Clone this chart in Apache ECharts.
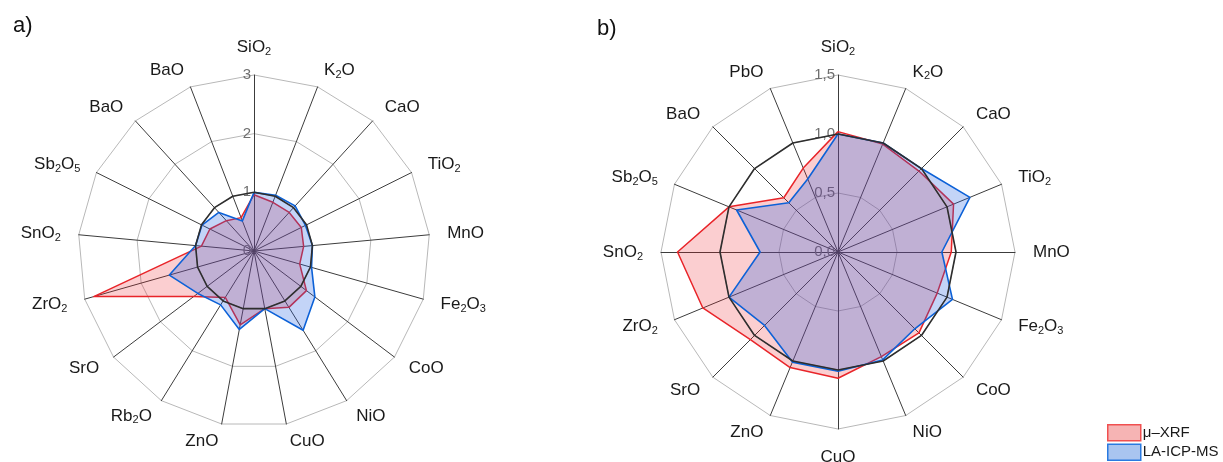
<!DOCTYPE html>
<html>
<head>
<meta charset="utf-8">
<script src="https://cdn.jsdelivr.net/npm/echarts@6/dist/echarts.min.js"></script>
<style>
html, body { margin: 0; padding: 0; background: #fff; }
#chart { width: 1223px; height: 462px; }
</style>
</head>
<body>
<div id="chart"></div>
<script>
// panel a) oxides, clockwise from top
var namesA = ['SiO2', 'K2O', 'CaO', 'TiO2', 'MnO', 'Fe2O3', 'CoO', 'NiO', 'CuO', 'ZnO', 'Rb2O', 'SrO', 'ZrO2', 'SnO2', 'Sb2O5', 'BaO', 'BaO'];
var xrfA = [0.96, 0.89, 0.89, 0.90, 0.85, 0.81, 1.12, 1.13, 1.00, 1.28, 0.93, 1.29, 2.84, 0.90, 0.84, 0.70, 0.61];
var icpA = [1.00, 1.02, 1.04, 0.98, 1.00, 1.02, 1.30, 1.59, 1.00, 1.36, 1.08, 1.20, 1.50, 1.00, 0.99, 0.89, 0.55];
var refA = [1, 1, 1, 1, 1, 1, 1, 1, 1, 1, 1, 1, 1, 1, 1, 1, 1];
var ticksA = ['0', '1', '2', '3'];

// panel b)
var namesB = ['SiO2', 'K2O', 'CaO', 'TiO2', 'MnO', 'Fe2O3', 'CoO', 'NiO', 'CuO', 'ZnO', 'SrO', 'ZrO2', 'SnO2', 'Sb2O5', 'BaO', 'PbO'];
var xrfB = [1.02, 0.99, 0.97, 1.06, 0.96, 0.91, 0.97, 0.96, 1.07, 1.06, 1.05, 1.24, 1.36, 1.00, 0.65, 0.77];
var icpB = [1.00, 1.00, 1.00, 1.21, 0.88, 1.05, 0.92, 0.99, 1.01, 1.01, 0.88, 1.00, 0.66, 0.93, 0.59, 0.67];
var refB = [1, 1, 1, 1, 1, 1, 1, 1, 1, 1, 1, 1, 1, 1, 1, 1];
var ticksB = ['0,0', '0,5', '1,0', '1,5'];

var seriesNames = ['μ–XRF', 'LA-ICP-MS'];

var FONT = 'Liberation Sans, Arial, sans-serif';
var chart = echarts.init(document.getElementById('chart'));

// echarts lays indicators out counter-clockwise, the figure goes clockwise
function cw(arr) {
    return [arr[0]].concat(arr.slice(1).reverse());
}

// digits in formulas become subscripts
function subs(name) {
    return name.replace(/(\d)/g, '{s|$1}');
}

function indicators(names, max, ticks, step) {
    return cw(names).map(function (n, i) {
        var ind = { name: n, min: 0, max: max };
        if (i === 0) {
            ind.axisLabel = {
                show: true,
                color: '#6e6e6e',
                fontSize: 15,
                margin: 3,
                fontFamily: FONT,
                formatter: function (v) { return ticks[Math.round(v / step)]; }
            };
        }
        return ind;
    });
}

function radar(center, radius, names, max, ticks, step) {
    return {
        center: center,
        radius: radius,
        startAngle: 90,
        shape: 'polygon',
        splitNumber: 3,
        nameGap: 18,
        indicator: indicators(names, max, ticks, step),
        axisName: {
            color: '#1a1a1a',
            fontSize: 17,
            fontFamily: FONT,
            lineHeight: 20,
            formatter: subs,
            rich: {
                s: { fontSize: 11, lineHeight: 12, verticalAlign: 'bottom', fontFamily: FONT, color: '#1a1a1a' }
            }
        },
        splitLine: { lineStyle: { color: '#b8b8b8', width: 1 } },
        splitArea: { show: false },
        axisLine: { lineStyle: { color: '#3c3c3c', width: 1 } },
        axisTick: { show: false }
    };
}

function radarSeries(idx, xrf, icp, ref) {
    return {
        type: 'radar',
        radarIndex: idx,
        symbol: 'none',
        silent: true,
        data: [
            {
                name: seriesNames[0],
                value: cw(xrf),
                lineStyle: { color: '#e8262a', width: 1.5 },
                itemStyle: { color: '#e8262a' },
                areaStyle: { color: 'rgba(235,30,35,0.31)' }
            },
            {
                name: seriesNames[1],
                value: cw(icp),
                lineStyle: { color: '#0a62d6', width: 1.6 },
                itemStyle: { color: '#0a62d6' },
                areaStyle: { color: 'rgba(30,95,225,0.38)' }
            },
            {
                name: 'ref',
                value: cw(ref),
                lineStyle: { color: '#2e2e2e', width: 1.6 },
                itemStyle: { color: '#2e2e2e' }
            }
        ]
    };
}

var option = {
    animation: false,
    title: [
        { text: 'a)', left: 8, top: 10, textStyle: { fontSize: 22, fontWeight: 'normal', color: '#111', fontFamily: FONT } },
        { text: 'b)', left: 592, top: 13, textStyle: { fontSize: 22, fontWeight: 'normal', color: '#111', fontFamily: FONT } }
    ],
    legend: {
        orient: 'vertical',
        left: 1107,
        top: 424,
        padding: 0,
        icon: 'rect',
        itemWidth: 33,
        itemHeight: 16,
        itemGap: 2,
        selectedMode: false,
        textStyle: { fontSize: 15, color: '#1a1a1a', fontFamily: FONT, padding: [0, 0, 0, -3] },
        data: [
            { name: seriesNames[0], itemStyle: { color: '#f6b4b4', borderColor: '#f05050', borderWidth: 1.5 } },
            { name: seriesNames[1], itemStyle: { color: '#a9c5f0', borderColor: '#2a7ae0', borderWidth: 1.5 } }
        ]
    },
    radar: [
        radar([254, 251], 176, namesA, 3, ticksA, 1),
        radar([838, 252], 177, namesB, 1.5, ticksB, 0.5)
    ],
    series: [
        radarSeries(0, xrfA, icpA, refA),
        radarSeries(1, xrfB, icpB, refB)
    ]
};

chart.setOption(option);
</script>
</body>
</html>
